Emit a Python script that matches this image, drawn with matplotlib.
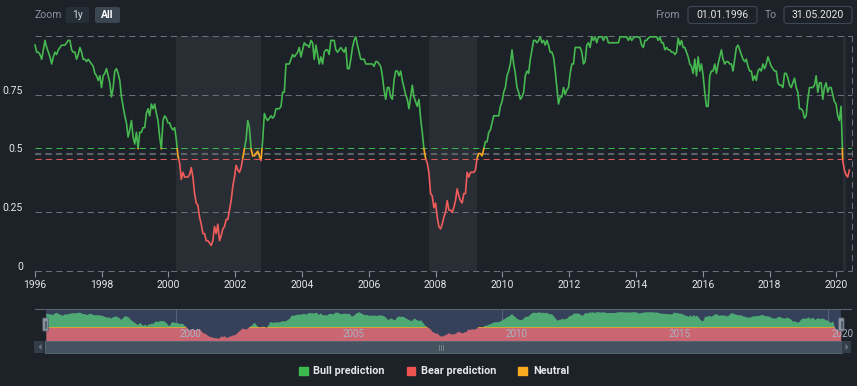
import numpy as np
import matplotlib.pyplot as plt
from matplotlib.patches import Rectangle, FancyBboxPatch, Patch, Polygon
from matplotlib.transforms import ScaledTranslation, blended_transform_factory

plt.rcParams['font.family'] = ['Roboto', 'DejaVu Sans']

# prediction value, read roughly every 0.05 year from the chart
vals_1996_2000 = [.96, .93, .93, .92, .90, .94, .98, .95, .93, .91, .88, .91, .93, .92, .94, .95,
                  .96, .96, .96, .97, .98, .98, .94, .93, .93, .90, .92, .95, .93, .90, .90, .89,
                  .90, .89, .88, .87, .84, .83, .81, .83, .78, .83, .84, .86, .83, .80, .74, .78,
                  .85, .86, .84, .81, .74, .70, .66, .63, .57, .60, .64, .57, .54, .59, .52, .59,
                  .59, .61, .61, .67, .69, .66, .71, .69, .71, .67, .64, .57, .52, .64, .66, .65,
                  .63, .63, .61, .60, .61, .56, .49, .46, .39, .42, .40, .40, .40, .41, .44, .40,
                  .33, .29]
vals_2001_2005 = [.28, .23, .20, .16, .16, .13, .13, .12, .11, .13, .19, .16, .20, .13, .15, .18,
                  .19, .22, .22, .26, .30, .36, .40, .45, .43, .42, .44, .48, .52, .56, .64, .61,
                  .52, .49, .49, .50, .51, .49, .47, .56, .67, .65, .64, .65, .66, .65, .66, .69,
                  .69, .69, .70, .76, .76, .88, .88, .88, .90, .92, .91, .92, .93, .95, .91, .94,
                  .97, .96, .96, .95, .98, .97, .90, .96, .92, .88, .91, .88, .93, .94, .94, .92,
                  .98, .98, .98, .94, .93, .94, .95, .94, .93, .95, .86, .86, .90, .95, .98, .995,
                  .96, .93, .90, .90]
vals_2006_2010 = [.90, .88, .88, .88, .88, .88, .87, .89, .89, .88, .87, .83, .77, .73, .78, .78,
                  .74, .73, .81, .85, .85, .83, .85, .81, .78, .75, .73, .69, .74, .79, .74, .72,
                  .70, .73, .65, .59, .52, .48, .46, .42, .33, .32, .27, .29, .23, .19, .18, .20,
                  .23, .25, .30, .26, .26, .25, .27, .30, .35, .32, .30, .29, .33, .33, .42, .40,
                  .42, .42, .42, .43, .48, .50, .50, .49, .52, .55, .55, .59, .60, .63, .66, .66,
                  .66, .66, .70, .72, .76, .78, .83, .85, .88, .94, .88, .84, .78, .76, .73, .74,
                  .76, .83, .85]
vals_2011_2015 = [.84, .90, .94, .98, .98, .97, .98, .995, .97, .98, .96, .98, .96, .93, .93, .91,
                  .85, .78, .71, .74, .74, .78, .75, .77, .78, .84, .88, .88, .95, .95, .95, .95,
                  .93, .88, .89, .96, .97, .95, .995, .98, .995, .97, .995, .995, .995, .98, .995, .995,
                  .97, .97, .97, .97, .97, .97, .97, .995, .995, .995, .995, .995, .98, .995, .98, .99,
                  .995, .995, .995, .99, .96, .95, .98, .98, .99, .995, .995, .995, .995, .995, .98, .995,
                  .97, .97, .94, .95, .94, .94, .93, .93, .92, .93, .99, .96, .98, .95, .95, .93,
                  .91, .88, .87]
vals_2016_2020 = [.84, .90, .83, .91, .85, .88, .83, .76, .70, .70, .83, .85, .85, .88, .84, .88,
                  .91, .94, .90, .88, .89, .89, .88, .88, .85, .90, .95, .96, .94, .92, .90, .89,
                  .90, .87, .85, .85, .81, .83, .81, .85, .86, .85, .88, .86, .88, .91, .89, .87,
                  .86, .85, .85, .80, .79, .79, .78, .84, .84, .82, .79, .78, .80, .82, .78, .76,
                  .69, .69, .68, .65, .66, .73, .78, .78, .78, .79, .83, .76, .80, .80, .73, .78,
                  .80, .76, .78, .78, .75, .72, .71, .66, .64, .70, .47, .43, .41, .40, .43]

values = np.array(vals_1996_2000 + vals_2001_2005 + vals_2006_2010 + vals_2011_2015 + vals_2016_2020)
years = np.linspace(1996.01, 2020.39, len(values))

bear_periods = [(2000.22, 2002.79), (2007.80, 2009.23), (2020.19, 2020.29)]
bull_level = 0.525
bear_level = 0.475
x_ticks = list(range(1996, 2021, 2))
y_ticks = [0, 0.25, 0.5, 0.75]
y_labels = ['0', '0.25', '0.5', '0.75']
nav_labels = [2000, 2005, 2010, 2015, 2020]

BG = '#1d2229'
BAND = '#292e35'
GRID = '#6b7078'
GREEN = '#45b84f'
RED = '#f05c5c'
ORANGE = '#f7a823'
TXT = '#e4e6ea'
MUTED = '#8893a3'

W, H = 857, 386
fig = plt.figure(figsize=(W / 100, H / 100), dpi=100)
fig.patch.set_facecolor(BG)


def box(x0, y0, x1, y1):
    return [x0 / W, 1 - y1 / H, (x1 - x0) / W, (y1 - y0) / H]


def zoned(ax, artist_fn, x0, x1):
    # colour a series by value zone, like highcharts zones
    zones = [(-1, bear_level, RED), (bear_level, bull_level, ORANGE), (bull_level, 2, GREEN)]
    for lo, hi, c in zones:
        art = artist_fn(c)
        art.set_clip_path(Rectangle((x0, lo), x1 - x0, hi - lo, transform=ax.transData))


# main chart
ax = fig.add_axes(box(34.7, 35.7, 851.7, 271.3))
ax.set_facecolor(BG)
ax.set_xlim(1996, 2020.46)
ax.set_ylim(0, 1)
for s in ax.spines.values():
    s.set_visible(False)

for a, b in bear_periods:
    ax.axvspan(a, b, color=BAND, lw=0, zorder=0)

for yv in [0, 0.25, 0.75, 1.0]:
    ax.axhline(yv, color=GRID, lw=0.75, dashes=(6, 4), clip_on=False, zorder=1)
ax.axhline(0.5, color='#5c6068', lw=1.5, dashes=(3, 2), zorder=1)
ax.axhline(bull_level, color='#3fb54c', lw=0.75, dashes=(6, 4), zorder=1)
ax.axhline(bear_level, color='#d95757', lw=0.75, dashes=(6, 4), zorder=1)
ax.axvline(2020.46, color=GRID, lw=0.75, dashes=(6, 4), clip_on=False, zorder=1)

zoned(ax, lambda c: ax.plot(years, values, color=c, lw=1.2, zorder=3)[0], 1990, 2030)

ax.set_xticks(x_ticks)
ax.set_xticklabels([str(t) for t in x_ticks])
ax.tick_params(axis='x', length=4.5, width=0.8, color='#8a919c', labelcolor=TXT,
               labelsize=7.5, pad=2)
ax.set_yticks(y_ticks)
ax.set_yticklabels(y_labels)
ax.tick_params(axis='y', length=0, labelcolor=TXT, labelsize=7.5, pad=8.5)
for lbl in ax.get_yticklabels():
    lbl.set_transform(lbl.get_transform() + ScaledTranslation(0, 5 / 100, fig.dpi_scale_trans))

# navigator
nav = fig.add_axes(box(45.6, 309.5, 841.4, 340.5))
nav.set_facecolor('#35405a')
nav.set_xlim(1996, 2020.41)
nav.set_ylim(0.033, 1.07)
nav.set_xticks([])
nav.set_yticks([])
for s in nav.spines.values():
    s.set_visible(False)
nav_colors = {GREEN: '#4ea974', RED: '#c96672', ORANGE: '#d9a13b'}
zoned(nav, lambda c: nav.fill_between(years, 0.0, values, color=nav_colors[c], lw=0, zorder=2), 1990, 2030)
for g in [2000, 2010, 2020]:
    nav.axvline(g, color='#56627a', lw=0.8, zorder=1)
tr = blended_transform_factory(nav.transData, nav.transAxes)
for yr in nav_labels:
    nav.text(yr + 0.12, 0.22, str(yr), transform=tr, color='#aab3c4', fontsize=7,
             va='center', ha='left', zorder=4)

# chrome: buttons, date boxes, navigator frame, scrollbar
ui = fig.add_axes([0, 0, 1, 1], zorder=5)
ui.set_xlim(0, W)
ui.set_ylim(H, 0)
ui.axis('off')

ui.text(35, 15.5, 'Zoom', color=MUTED, fontsize=7.5, va='center', ha='left')
ui.add_patch(FancyBboxPatch((66, 7), 23, 16, boxstyle='round,pad=0,rounding_size=2',
                            fc='#262e37', ec='none'))
ui.text(77.5, 15.5, '1y', color='#cfd4da', fontsize=7.5, va='center', ha='center')
ui.add_patch(FancyBboxPatch((95, 7), 25, 16, boxstyle='round,pad=0,rounding_size=2',
                            fc='#3b4653', ec='none'))
ui.text(107.5, 15.5, 'All', color='white', fontsize=7.5, fontweight='bold', va='center', ha='center')

ui.text(680, 15.5, 'From', color=MUTED, fontsize=7.5, va='center', ha='right')
ui.add_patch(FancyBboxPatch((688, 6.5), 69, 17, boxstyle='round,pad=0,rounding_size=3',
                            fc=BG, ec='#3e4855', lw=0.8))
ui.text(722.5, 15.5, '01.01.1996', color=TXT, fontsize=7.5, va='center', ha='center')
ui.text(777, 15.5, 'To', color=MUTED, fontsize=7.5, va='center', ha='right')
ui.add_patch(FancyBboxPatch((784, 6.5), 68, 17, boxstyle='round,pad=0,rounding_size=3',
                            fc=BG, ec='#3e4855', lw=0.8))
ui.text(818, 15.5, '31.05.2020', color=TXT, fontsize=7.5, va='center', ha='center')

ui.plot([35, 851], [309, 309], color='#5a6270', lw=0.8)
for hx in [42.8, 838.5]:
    ui.add_patch(FancyBboxPatch((hx, 318), 5.5, 13, boxstyle='round,pad=0,rounding_size=1',
                                fc='#8d97a3', ec='#5a6270', lw=0.6))
    ui.plot([hx + 2.2, hx + 2.2], [321, 328], color='#3a4350', lw=0.5)
    ui.plot([hx + 3.4, hx + 3.4], [321, 328], color='#3a4350', lw=0.5)

ui.add_patch(Rectangle((34, 341), 817, 12, fc='#2c353f', ec='none'))
ui.add_patch(Rectangle((45, 341), 797, 12, fc='#44535f', ec='#5c6a77', lw=0.6))
for ax0, pts in [(34, [(41.5, 344), (41.5, 350), (38.5, 347)]),
                 (842, [(845.5, 344), (845.5, 350), (848.5, 347)])]:
    ui.add_patch(Rectangle((ax0, 341), 9, 12, fc='#333d48', ec='none'))
    ui.add_patch(Polygon(pts, closed=True, fc='#6d7784', ec='none'))
for gx in [439.5, 441.5, 443.5]:
    ui.plot([gx, gx], [344.5, 349.5], color='#7c8894', lw=0.6)

handles = [Patch(color='#3dba4e', label='Bull prediction'),
           Patch(color='#ef5350', label='Bear prediction'),
           Patch(color='#fbab1f', label='Neutral')]
fig.legend(handles=handles, loc='center', bbox_to_anchor=(434 / W, 1 - 371.5 / H), ncol=3,
           frameon=False, labelcolor=TXT, handlelength=0.8, handleheight=0.8,
           handletextpad=0.55, columnspacing=2.0, prop={'weight': 'bold', 'size': 7.8})

fig.savefig('out.png', dpi=100, facecolor=BG)
